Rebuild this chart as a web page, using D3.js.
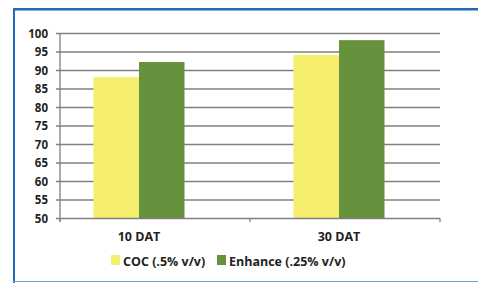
<!DOCTYPE html>
<html>
<head>
<meta charset="utf-8">
<script src="https://cdn.jsdelivr.net/npm/d3@7"></script>
<style>
  body { margin: 0; background: #fff; }
  text { font-family: "Open Sans", "DejaVu Sans", sans-serif; font-weight: 700; fill: #231f20; }
</style>
</head>
<body>
<script>
var categories = ["10 DAT", "30 DAT"];
var seriesNames = ["COC (.5% v/v)", "Enhance (.25% v/v)"];
var seriesColors = ["#f5ed6c", "#66913d"];
var cocValues = [88.2, 94.2];
var enhanceValues = [92.3, 98.2];
var yTicks = [50, 55, 60, 65, 70, 75, 80, 85, 90, 95, 100];

var width = 478, height = 283;
var svg = d3.select("body").append("svg")
  .attr("width", width)
  .attr("height", height);

// frame
svg.append("rect").attr("x", 13).attr("y", 8).attr("width", 466).attr("height", 2.5).attr("fill", "#1f6bb8");
svg.append("rect").attr("x", 13).attr("y", 8).attr("width", 2).attr("height", 275).attr("fill", "#1f6bb8");
svg.append("rect").attr("x", 13).attr("y", 281).attr("width", 466).attr("height", 1).attr("fill", "#5ea5dc");

var y = d3.scaleLinear().domain([50, 100]).range([218.5, 33.5]);
// category boundaries on the axis
var xAxisBand = d3.scaleBand().domain(categories).range([60, 440]);
// bar groups
var x0 = d3.scaleBand().domain(categories).range([39, 439]).paddingInner(0.545).paddingOuter(0.2725);
var x1 = d3.scaleBand().domain([0, 1]).range([0, x0.bandwidth()]);

// gridlines
svg.append("g").selectAll("line").data(yTicks.slice(1)).enter().append("line")
  .attr("x1", 56).attr("x2", 440)
  .attr("y1", d => y(d)).attr("y2", d => y(d))
  .attr("stroke", "#808080").attr("stroke-width", 1.3);

// y axis labels
svg.append("g").selectAll("text").data(yTicks).enter().append("text")
  .attr("x", 48).attr("y", d => y(d) + 4)
  .attr("text-anchor", "end")
  .attr("font-size", 11.5)
  .text(d => d);

// bars
var rows = categories.map((c, i) => ({cat: c, vals: [cocValues[i], enhanceValues[i]]}));
var groups = svg.append("g").selectAll("g").data(rows).enter().append("g")
  .attr("transform", d => "translate(" + x0(d.cat) + ",0)");
groups.selectAll("rect").data(d => d.vals).enter().append("rect")
  .attr("x", (d, i) => x1(i))
  .attr("width", x1.bandwidth())
  .attr("y", d => y(d))
  .attr("height", d => y(50) - y(d))
  .attr("fill", (d, i) => seriesColors[i]);

// axes lines
svg.append("line").attr("x1", 60).attr("x2", 60).attr("y1", 33).attr("y2", 221.5)
  .attr("stroke", "#808080").attr("stroke-width", 1.3);
svg.append("line").attr("x1", 56).attr("x2", 440).attr("y1", y(50)).attr("y2", y(50))
  .attr("stroke", "#808080").attr("stroke-width", 1.3);
var bounds = categories.map(c => xAxisBand(c)).concat([xAxisBand.range()[1]]);
svg.append("g").selectAll("line").data(bounds).enter().append("line")
  .attr("x1", d => d).attr("x2", d => d)
  .attr("y1", y(50)).attr("y2", y(50) + 3.5)
  .attr("stroke", "#808080").attr("stroke-width", 1.3);

// category labels
svg.append("g").selectAll("text").data(categories).enter().append("text")
  .attr("x", d => x0(d) + x0.bandwidth() / 2)
  .attr("y", 240.5)
  .attr("text-anchor", "middle")
  .attr("font-size", 12.5)
  .text(d => d);

// legend
var legendX = [111, 217];
var legend = svg.append("g").selectAll("g").data(seriesNames).enter().append("g")
  .attr("transform", (d, i) => "translate(" + legendX[i] + ",255)");
legend.append("rect").attr("width", 9).attr("height", 10).attr("fill", (d, i) => seriesColors[i]);
legend.append("text").attr("x", 12).attr("y", 10.5).attr("font-size", 12.5).text(d => d);
</script>
</body>
</html>
